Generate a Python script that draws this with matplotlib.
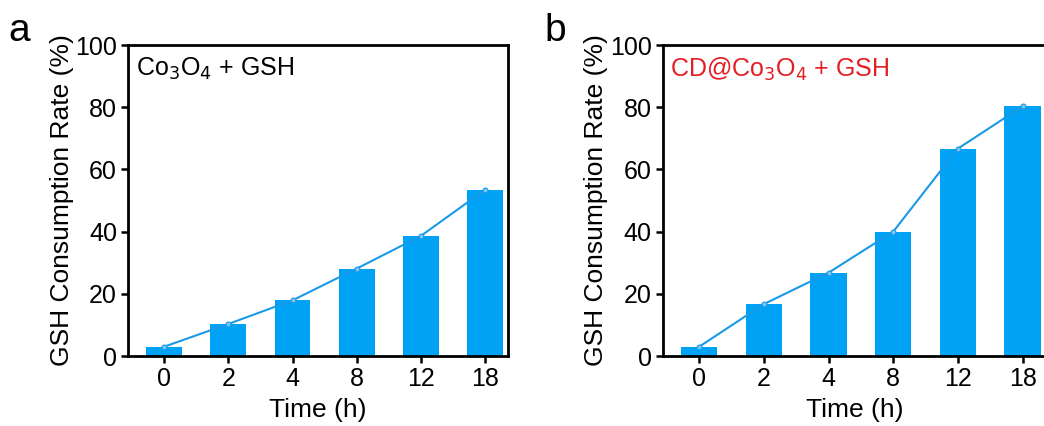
import matplotlib.pyplot as plt
import numpy as np

plt.rcParams['font.family'] = ['Liberation Sans', 'DejaVu Sans']

# Data
times = ['0', '2', '4', '8', '12', '18']
rate_co3o4 = [3.0, 10.3, 17.9, 28.1, 38.6, 53.4]
rate_cd_co3o4 = [3.0, 16.7, 26.8, 40.0, 66.7, 80.3]

bar_color = '#00a2f5'
line_color = '#1a9ae6'

fig = plt.figure(figsize=(10.44, 4.26), dpi=100)
ax_a = fig.add_axes([0.1226, 0.1643, 0.364, 0.730])
ax_b = fig.add_axes([0.6348, 0.1643, 0.367, 0.730])

panels = [
    (ax_a, rate_co3o4, r'Co$_3$O$_4$ + GSH', 'black', 'a', 0.008),
    (ax_b, rate_cd_co3o4, r'CD@Co$_3$O$_4$ + GSH', '#e31e24', 'b', 0.522),
]

x = np.arange(len(times))
for ax, vals, note, note_color, letter, lx in panels:
    ax.bar(x, vals, width=0.56, color=bar_color, zorder=2)
    ax.plot(x, vals, color=line_color, lw=1.5, marker='o', ms=3.5,
            mfc='#7cc8f2', mec=line_color, mew=0.8, zorder=3)
    ax.set_xlim(-0.565, 5.36)
    ax.set_ylim(0, 100)
    ax.set_yticks(range(0, 101, 20))
    ax.set_xticks(x)
    ax.set_xticklabels(times)
    ax.tick_params(direction='out', length=5, width=1.8, labelsize=18, pad=3)
    for s in ax.spines.values():
        s.set_linewidth(2)
    ax.set_xlabel('Time (h)', fontsize=19, labelpad=5)
    ax.set_ylabel('GSH Consumption Rate (%)', fontsize=19, labelpad=1)
    ax.text(0.02, 0.965, note, transform=ax.transAxes, ha='left', va='top',
            fontsize=18, color=note_color)
    fig.text(lx, 0.97, letter, fontsize=28, ha='left', va='top')

fig.savefig('out.png', dpi=100)
